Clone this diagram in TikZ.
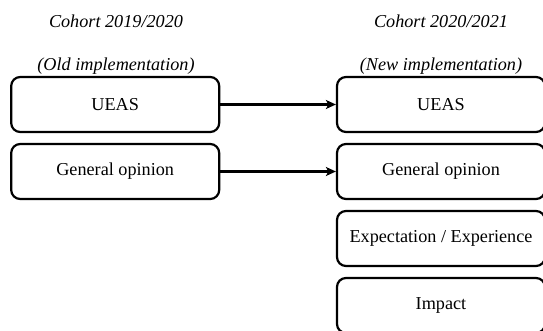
\documentclass[tikz,border=0pt]{standalone}
\usepackage{fontspec}
\setmainfont{Liberation Serif}
\usetikzlibrary{arrows.meta}
\tikzset{
  box/.style={draw=black, line width=2.2pt, rounded corners=9pt, minimum width=208pt, minimum height=55pt, inner sep=0pt, font=\fontsize{18.2}{21}\selectfont},
  title/.style={font=\fontsize{18.2}{21}\selectfont\itshape, inner sep=0pt},
  link/.style={line width=2.2pt, -{Stealth[length=10pt,width=9pt,inset=2.5pt]}}
}
\begin{document}
\begin{tikzpicture}[x=1pt,y=-1pt]
\useasboundingbox (0,0) rectangle (543,331);
\node[title] (t1) at (116,21) {Cohort 2019/2020};
\node[title] (t2) at (116,66) {(Old implementation)};
\node[title] (t3) at (441,21) {Cohort 2020/2021};
\node[title] (t4) at (441,66) {(New implementation)};
\node[box] (l1) at (115.2,104.5) {UEAS};
\node[box] (l2) at (115.2,171.5) {General opinion};
\node[box] (r1) at (441,104.5) {UEAS};
\node[box] (r2) at (441,171.5) {General opinion};
\node[box] (r3) at (441,238.5) {Expectation / Experience};
\node[box] (r4) at (441,305.5) {Impact};
\draw[link] (l1) -- (r1);
\draw[link] (l2) -- (r2);
\end{tikzpicture}
\end{document}
